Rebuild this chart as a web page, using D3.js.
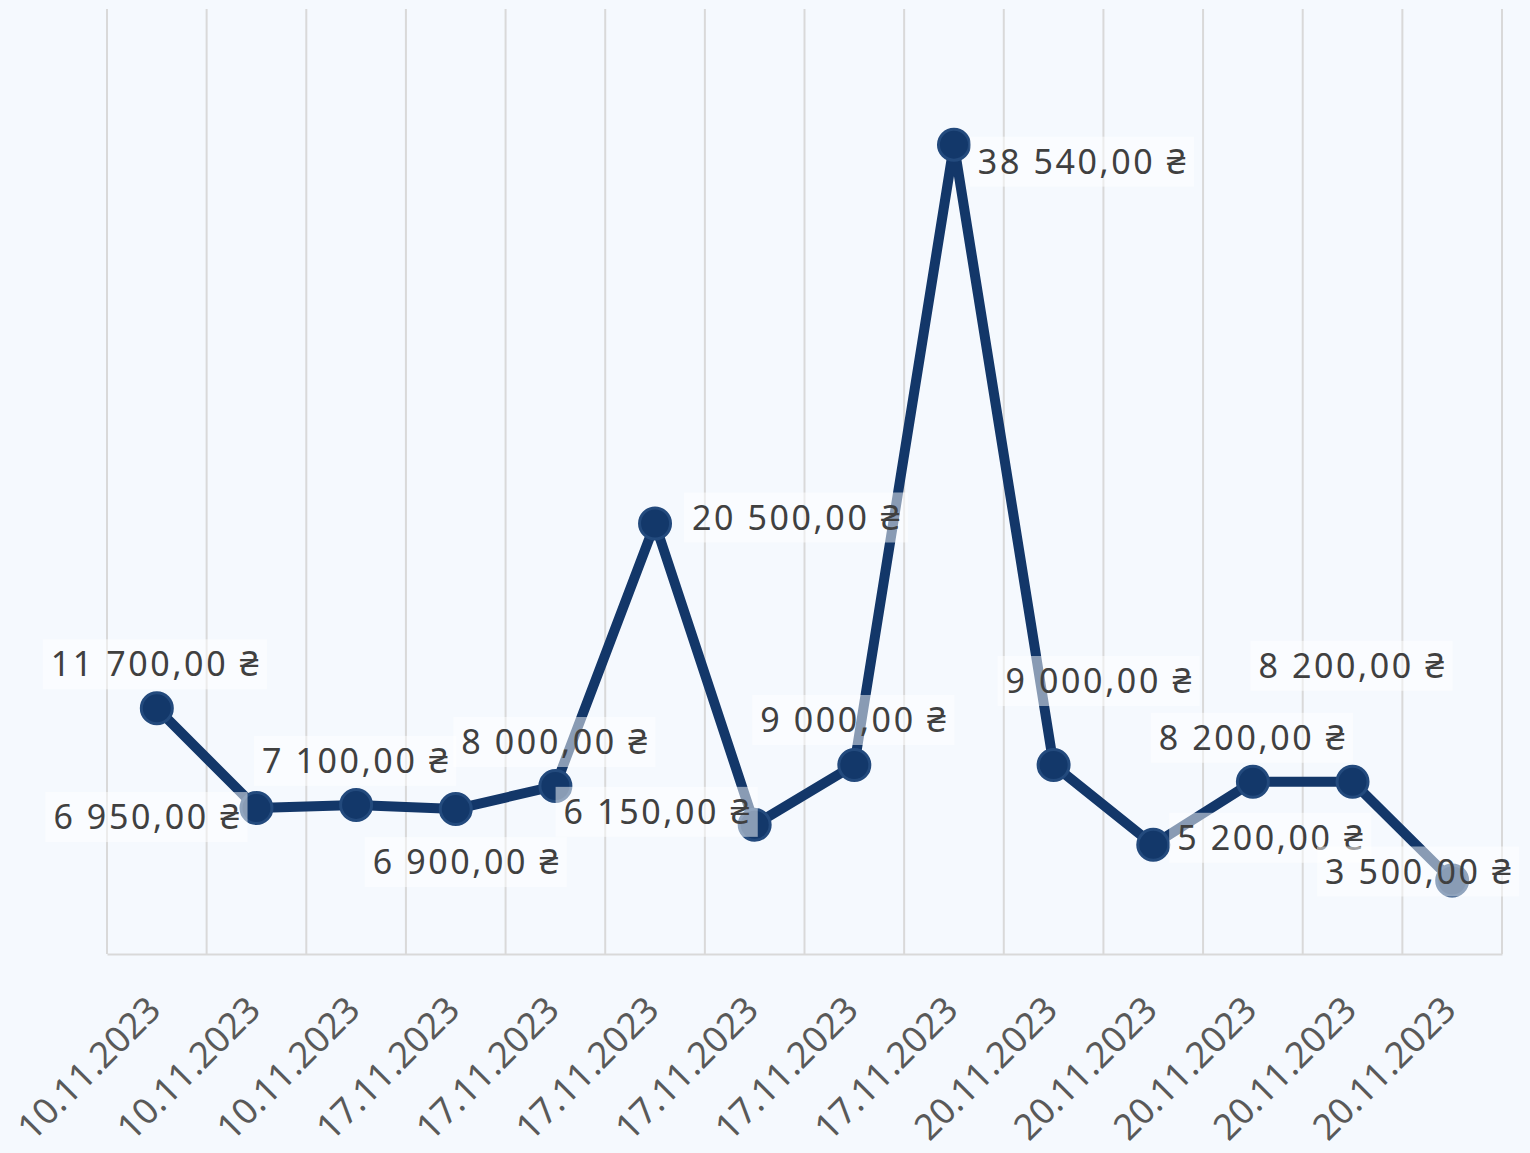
<!DOCTYPE html>
<html>
<head>
<meta charset="utf-8">
<script src="https://cdn.jsdelivr.net/npm/d3@7"></script>
<style>
  html, body { margin: 0; padding: 0; background: #f5f9fe; }
  svg { display: block; }
</style>
</head>
<body>
<svg id="chart" width="1530" height="1153"></svg>
<script>
// ---- data ----
const categories = ["10.11.2023","10.11.2023","10.11.2023","17.11.2023","17.11.2023","17.11.2023","17.11.2023","17.11.2023","17.11.2023","20.11.2023","20.11.2023","20.11.2023","20.11.2023","20.11.2023"];
const values = [11700, 6950, 7100, 6900, 8000, 20500, 6150, 9000, 38540, 9000, 5200, 8200, 8200, 3500];
const valueLabels = ["11 700,00 ₴","6 950,00 ₴","7 100,00 ₴","6 900,00 ₴","8 000,00 ₴","20 500,00 ₴","6 150,00 ₴","9 000,00 ₴","38 540,00 ₴","9 000,00 ₴","5 200,00 ₴","8 200,00 ₴","8 200,00 ₴","3 500,00 ₴"];

// ---- layout (label offsets relative to each point) ----
const labelDx = [-1, -109, 0, 11, 0, 142, -97, 0, 129, 46, 118, 0, 0, -33];
const labelDy = [-45, 8, -45, 52, -45, -7, -14, -46, 16, -85, -8, -45, -117, -10];

(function () {
const W = 1530, H = 1153;
const mLeft = 107, mRight = 1502, mTop = 9, mBottom = 954;
const FONT = "'Noto Sans', 'DejaVu Sans', sans-serif";

const svg = d3.select("#chart");
svg.append("rect").attr("width", W).attr("height", H).attr("fill", "#f5f9fe");

const idx = d3.range(categories.length);
const x = d3.scaleBand().domain(idx).range([mLeft, mRight]).padding(0);
const y = d3.scaleLinear().domain([0, 45000]).range([mBottom, mTop]);

// vertical gridlines at category boundaries
const bounds = idx.map(i => x(i)).concat([x(idx[idx.length - 1]) + x.bandwidth()]);
svg.append("g").selectAll("line").data(bounds).join("line")
  .attr("x1", d => d).attr("x2", d => d)
  .attr("y1", mTop).attr("y2", mBottom)
  .attr("stroke", "#d9d9d9").attr("stroke-width", 2);

// x axis
const xAxis = d3.axisBottom(x).tickSize(0).tickSizeOuter(0).tickFormat(i => categories[i]);
const gx = svg.append("g").attr("transform", `translate(0,${mBottom})`).call(xAxis);
gx.select(".domain").attr("stroke", "#d9d9d9").attr("stroke-width", 2);
gx.selectAll(".tick text")
  .attr("font-family", FONT).attr("font-size", 36).attr("fill", "#595959")
  .attr("text-anchor", "end")
  .attr("dy", null).attr("y", 0)
  .attr("transform", `translate(6,58) rotate(-45)`);

// line
const cx = i => x(i) + x.bandwidth() / 2;
const line = d3.line().x((d, i) => cx(i)).y(d => y(d));
svg.append("path").datum(values)
  .attr("d", line).attr("fill", "none")
  .attr("stroke", "#133769").attr("stroke-width", 10)
  .attr("stroke-linejoin", "round");

// markers
svg.append("g").selectAll("circle").data(values).join("circle")
  .attr("cx", (d, i) => cx(i)).attr("cy", d => y(d))
  .attr("r", 15.5)
  .attr("fill", "#13386a").attr("stroke", "#234a7d").attr("stroke-width", 3);

// data labels
const lg = svg.append("g");
values.forEach((v, i) => {
  const g = lg.append("g")
    .attr("transform", `translate(${cx(i) + labelDx[i]},${y(v) + labelDy[i]})`);
  const rect = g.append("rect").attr("fill", "#ffffff").attr("fill-opacity", 0.5);
  const t = g.append("text")
    .attr("text-anchor", "middle").attr("dominant-baseline", "central")
    .attr("font-family", FONT).attr("font-size", 34).attr("fill", "#404040")
    .attr("letter-spacing", "2.6px")
    .text(valueLabels[i]);
  const bb = t.node().getBBox();
  rect.attr("x", bb.x - 8).attr("y", -24).attr("width", bb.width + 14).attr("height", 50);
});
})();
</script>
</body>
</html>
